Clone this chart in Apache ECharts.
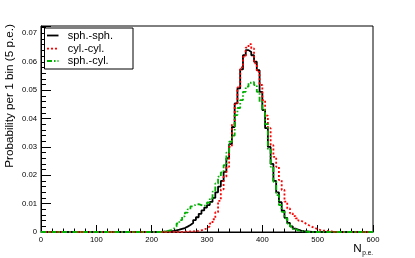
<!DOCTYPE html>
<html>
<head>
<meta charset="utf-8">
<script src="https://cdn.jsdelivr.net/npm/echarts@6/dist/echarts.min.js"></script>
<style>
html,body{margin:0;padding:0;background:#fff;}
#chart{width:415px;height:258px;}
</style>
</head>
<body>
<div id="chart"></div>
<script>
// Histogram bins: width 5 p.e., values listed from first bin at N = 200
const binWidth = 5;
const firstBin = 200;
const xMax = 600;
const xTicks = [0, 100, 200, 300, 400, 500, 600];
const yTicks = ['0', '0.01', '0.02', '0.03', '0.04', '0.05', '0.06', '0.07'];
const seriesNames = ['sph.-sph.', 'cyl.-cyl.', 'sph.-cyl.'];

// bins 200,205,...,525
const sphSph = [
  0, 0, 0, 0, 0.0001, 0.0002, 0.0003, 0.0004, 0.0006, 0.0008,
  0.0011, 0.0014, 0.0019, 0.0025, 0.0032, 0.0042, 0.0052, 0.0064, 0.0076, 0.0086,
  0.0095, 0.0106, 0.0120, 0.0140, 0.0160, 0.0180, 0.0212, 0.0260, 0.0310, 0.0370,
  0.0453, 0.0506, 0.0573, 0.0623, 0.0641, 0.0634, 0.0623, 0.0600, 0.0570, 0.0494,
  0.0430, 0.0366, 0.0300, 0.0240, 0.0180, 0.0140, 0.0105, 0.0075, 0.0050, 0.0032,
  0.0020, 0.0012, 0.0008, 0.0005, 0.0003, 0.0002, 0.0001, 0, 0, 0,
  0, 0, 0, 0, 0, 0
];
const cylCyl = [
  0, 0, 0, 0, 0, 0, 0, 0, 0, 0,
  0, 0.0001, 0.0001, 0.0002, 0.0002, 0.0003, 0.0004, 0.0006, 0.0009, 0.0013,
  0.0020, 0.0030, 0.0045, 0.0070, 0.0110, 0.0150, 0.0195, 0.0230, 0.0300, 0.0380,
  0.0450, 0.0510, 0.0580, 0.0617, 0.0650, 0.0662, 0.0647, 0.0594, 0.0564, 0.0518,
  0.0465, 0.0410, 0.0366, 0.0306, 0.0265, 0.0230, 0.0183, 0.0148, 0.0107, 0.0083,
  0.0066, 0.0056, 0.0048, 0.0040, 0.0034, 0.0028, 0.0023, 0.0018, 0.0014, 0.0010,
  0.0007, 0.0005, 0.0004, 0.0003, 0.0002, 0.0001
];
const sphCyl = [
  0, 0, 0, 0.0001, 0.0002, 0.0004, 0.0007, 0.0012, 0.0019, 0.0030,
  0.0042, 0.0055, 0.0068, 0.0080, 0.0090, 0.0097, 0.0098, 0.0095, 0.0092, 0.0096,
  0.0104, 0.0119, 0.0142, 0.0171, 0.0195, 0.0210, 0.0236, 0.0280, 0.0318, 0.0340,
  0.0412, 0.0437, 0.0465, 0.0494, 0.0512, 0.0526, 0.0529, 0.0518, 0.0494, 0.0459,
  0.0430, 0.0380, 0.0290, 0.0230, 0.0177, 0.0130, 0.0095, 0.0071, 0.0048, 0.0030,
  0.0019, 0.0010, 0.0006, 0.0004, 0.0002, 0.0001, 0, 0, 0, 0,
  0, 0, 0, 0, 0, 0
];

function toSteps(vals) {
  const pts = [];
  let v = 0;
  for (let x = 0; x < xMax; x += binWidth) {
    const i = (x - firstBin) / binWidth;
    v = (i >= 0 && i < vals.length) ? vals[i] : 0;
    pts.push([x, v]);
  }
  pts.push([xMax, v]);
  return pts;
}

const FONT = '"Liberation Sans", Arial, Helvetica, sans-serif';
const colors = ['#000000', '#ff0000', '#00b000'];
const dashes = ['solid', [2, 2], [5, 2, 1.5, 2]];
const chart = echarts.init(document.getElementById('chart'), null, {renderer: 'canvas'});

// legend drawn as graphic (box, line samples, real text)
const legendRows = [35.5, 48.6, 61];
const legendGraphic = [
  {type: 'rect', shape: {x: 44.5, y: 28, width: 88.5, height: 41}, style: {fill: '#fff', stroke: '#000', lineWidth: 1}, z: 100}
];
seriesNames.forEach(function (name, k) {
  legendGraphic.push({type: 'line', shape: {x1: 47, y1: legendRows[k], x2: 58.5, y2: legendRows[k]},
    style: {stroke: colors[k], lineWidth: 1.8, lineDash: dashes[k] === 'solid' ? null : dashes[k]}, z: 101});
  legendGraphic.push({type: 'text', x: 67.7, y: legendRows[k],
    style: {text: name, font: '11px ' + FONT, fill: '#000', textAlign: 'left', textVerticalAlign: 'middle', align: 'left', verticalAlign: 'middle'}, z: 101});
});

const option = {
  animation: false,
  backgroundColor: '#fff',
  grid: {left: 41, right: 42, top: 26, bottom: 26, show: true, borderColor: '#000', borderWidth: 1, backgroundColor: 'transparent'},
  xAxis: {
    type: 'value', min: xTicks[0], max: xTicks[xTicks.length - 1], interval: 100,
    axisLine: {show: true, onZero: false, lineStyle: {color: '#000', width: 1}},
    axisTick: {show: true, inside: true, length: 7, lineStyle: {color: '#000', width: 1}},
    minorTick: {show: true, splitNumber: 5, length: 3.5, lineStyle: {color: '#000', width: 1}},
    splitLine: {show: false},
    axisLabel: {color: '#000', fontSize: 7.7, fontFamily: FONT, margin: 4}
  },
  yAxis: {
    type: 'value', min: 0, max: 0.0726, interval: 0.01,
    axisLine: {show: true, onZero: false, lineStyle: {color: '#000', width: 1}},
    axisTick: {show: true, inside: true, length: 10, lineStyle: {color: '#000', width: 1}},
    minorTick: {show: true, splitNumber: 5, length: 5, lineStyle: {color: '#000', width: 1}},
    splitLine: {show: false},
    axisLabel: {
      color: '#000', fontSize: 7.7, fontFamily: FONT, margin: 4, showMaxLabel: false,
      formatter: function (v) { const k = Math.round(v * 100); return (k >= 0 && k < yTicks.length && Math.abs(v * 100 - k) < 1e-6) ? yTicks[k] : ''; }
    }
  },
  series: seriesNames.map(function (name, k) {
    const vals = [sphSph, cylCyl, sphCyl][k];
    return {name: name, type: 'line', step: 'end', symbol: 'none', showSymbol: false, data: toSteps(vals),
      lineStyle: {color: colors[k], width: 1.8, type: dashes[k]}, itemStyle: {color: colors[k]}};
  }),
  graphic: [
    {type: 'text', x: 10, y: 96, rotation: Math.PI / 2,
     style: {text: 'Probability per 1 bin (5 p.e.)', font: '11.7px ' + FONT, fill: '#000', textAlign: 'center', textVerticalAlign: 'middle', align: 'center', verticalAlign: 'middle'}},
    {type: 'text', x: 353.3, y: 248.3,
     style: {text: 'N', font: '11.7px ' + FONT, fill: '#000', textAlign: 'left', textVerticalAlign: 'middle', align: 'left', verticalAlign: 'middle'}},
    {type: 'text', x: 362.3, y: 252.8,
     style: {text: 'p.e.', font: '6.5px ' + FONT, fill: '#000', textAlign: 'left', textVerticalAlign: 'middle', align: 'left', verticalAlign: 'middle'}}
  ].concat(legendGraphic)
};
chart.setOption(option);
</script>
</body>
</html>
